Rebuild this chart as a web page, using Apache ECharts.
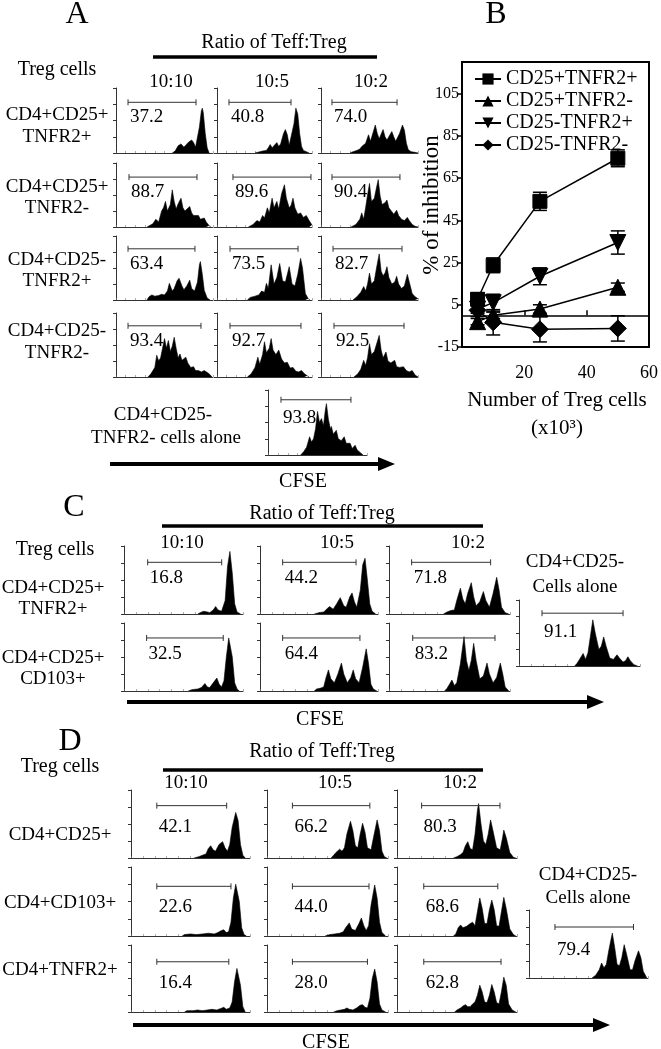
<!DOCTYPE html>
<html><head><meta charset="utf-8">
<script src="https://cdn.jsdelivr.net/npm/echarts@6/dist/echarts.min.js"></script>
<style>html,body{margin:0;padding:0;background:#fff}#c{width:661px;height:1049px}</style>
</head><body><div id="c"></div>
<script>
const FONT = "'Liberation Serif','Times New Roman',serif";

// ---------- shared labels ----------
const ratioLabels = ['10:10', '10:5', '10:2'];
const ratioTitle = 'Ratio of Teff:Treg';
const tregTitle = 'Treg cells';

// ---------- Panel A ----------
const A_rowLabels = [['CD4+CD25+', 'TNFR2+'], ['CD4+CD25+', 'TNFR2-'], ['CD4+CD25-', 'TNFR2+'], ['CD4+CD25-', 'TNFR2-']];
const A_pct_r1 = [37.2, 40.8, 74.0];
const A_pct_r2 = [88.7, 89.6, 90.4];
const A_pct_r3 = [63.4, 73.5, 82.7];
const A_pct_r4 = [93.4, 92.7, 92.5];
const A_pct_alone = 93.8;
const A_gate_r1 = [[12.4, 82.5], [12.6, 77.9], [11.3, 78.4]];
const A_gate_r2 = [[13.4, 83.5], [16.8, 98.9], [11.3, 81.4]];
const A_gate_r3 = [[12.4, 81.4], [13.7, 85.3], [12.4, 83.5]];
const A_gate_r4 = [[12.4, 87.6], [13.7, 88.4], [13.4, 85.6]];
const A_gate_alone = [13.1, 83.8];
const A_gateY = [78, 78, 80, 80];
const A_gateY_alone = 85;

const hA_r1c1 = [[58,0],[61,3],[64,11],[67,14],[70,9],[72,9],[75,17],[78,20],[80,16],[82,9],[84,12],[86,40],[88,65],[89,69],[90,62],[92,30],[94,8],[96,0]];
const hA_r1c2 = [[40,0],[42,2],[48,3],[52,4],[54,8],[56,13],[58,8],[60,10],[63,16],[65,10],[67,14],[70,30],[72,36],[74,28],[76,12],[78,15],[81,45],[83,69],[85,60],[87,30],[89,10],[91,4],[93,1],[97,0]];
const hA_r1c3 = [[30,0],[33,2],[37,4],[40,6],[42,10],[44,8],[46,15],[49,28],[51,18],[53,20],[56,43],[58,30],[60,22],[62,25],[64,36],[66,25],[68,20],[70,22],[73,33],[75,25],[77,18],[79,20],[81,30],[84,43],[86,35],[88,15],[90,5],[93,2],[97,1],[100,0]];
const hA_r2c1 = [[32,0],[38,5],[41,12],[44,8],[47,25],[49,30],[51,40],[53,25],[56,35],[58,58],[60,40],[62,28],[64,36],[67,45],[69,30],[71,25],[73,28],[76,32],[78,22],[80,18],[82,15],[85,18],[87,12],[89,10],[91,14],[93,8],[96,2],[98,0]];
const hA_r2c2 = [[33,0],[38,4],[42,10],[45,8],[48,18],[50,14],[53,30],[55,22],[58,45],[60,30],[63,40],[65,28],[68,52],[71,66],[73,45],[76,30],[78,34],[80,45],[82,30],[85,20],[88,22],[91,15],[94,18],[97,10],[100,3]];
const hA_r2c3 = [[31,0],[36,4],[40,12],[42,22],[44,12],[46,30],[48,50],[50,68],[52,40],[55,45],[57,60],[59,74],[61,48],[63,35],[66,38],[68,42],[70,30],[73,24],[75,20],[78,26],[80,18],[83,12],[86,10],[89,15],[91,10],[94,4],[97,1],[100,0]];
const hA_r3c1 = [[32,0],[34,5],[37,8],[40,6],[44,7],[47,9],[50,8],[53,14],[55,26],[58,14],[60,18],[63,30],[65,34],[68,22],[70,16],[73,22],[76,31],[78,18],[81,14],[84,28],[86,55],[87,60],[89,40],[91,15],[94,3],[97,0]];
const hA_r3c2 = [[32,0],[35,4],[40,6],[44,8],[47,14],[50,12],[52,26],[54,18],[57,55],[60,25],[63,35],[66,57],[69,30],[72,28],[76,52],[79,25],[82,22],[85,40],[88,65],[90,50],[93,10],[96,2],[98,0]];
const hA_r3c3 = [[33,0],[37,5],[41,12],[44,21],[46,14],[48,25],[50,42],[52,25],[55,30],[57,48],[60,72],[62,45],[64,38],[66,42],[68,52],[70,35],[73,25],[76,28],[78,37],[80,25],[83,18],[86,22],[89,40],[91,28],[94,10],[97,5],[100,2]];
const hA_r4c1 = [[33,0],[36,5],[40,15],[42,34],[44,25],[46,30],[48,45],[50,60],[52,45],[54,57],[56,40],[58,48],[60,62],[62,45],[64,30],[66,36],[68,26],[70,25],[72,31],[74,22],[77,15],[80,16],[82,10],[85,10],[88,8],[91,10],[93,11],[96,5],[99,0]];
const hA_r4c2 = [[32,0],[36,5],[40,15],[43,31],[45,20],[48,35],[50,55],[52,38],[55,45],[57,60],[59,42],[62,35],[65,42],[68,28],[71,22],[74,23],[77,14],[80,15],[83,9],[86,8],[89,10],[92,5],[95,2],[97,0]];
const hA_r4c3 = [[34,0],[38,5],[41,12],[44,26],[46,18],[48,30],[50,52],[52,35],[55,40],[57,50],[60,65],[62,42],[64,30],[67,39],[69,25],[72,22],[76,26],[78,16],[81,15],[85,16],[88,10],[91,8],[94,10],[97,3],[100,0]];
const hA_alone = [[33,0],[36,5],[39,12],[42,28],[44,20],[46,25],[48,40],[50,67],[52,50],[54,56],[56,45],[58,70],[59,79],[61,55],[63,40],[64,44],[66,32],[69,38],[71,25],[74,22],[77,28],[79,18],[81,15],[83,18],[85,10],[88,15],[90,8],[93,4],[96,0]];

// ---------- Panel B ----------
const tregNumber = [5, 10, 25, 50];
const B_names = ['CD25+TNFR2+', 'CD25+TNFR2-', 'CD25-TNFR2+', 'CD25-TNFR2-'];
const B_CD25pTNFR2p = [7.6, 23.7, 54.0, 74.4];
const B_CD25pTNFR2p_err = [3, 3.5, 4.3, 4];
const B_CD25pTNFR2m = [-3, 0, 3, 13.3];
const B_CD25pTNFR2m_err = [1.5, 1.5, 2, 2];
const B_CD25mTNFR2p = [3, 6, 18.5, 34.5];
const B_CD25mTNFR2p_err = [2, 4, 4, 5.5];
const B_CD25mTNFR2m = [2.4, -3.3, -6.6, -6.2];
const B_CD25mTNFR2m_err = [3, 6, 6, 6];
const B_yTitle = '% of inhibition';
const B_xTitle = 'Number of Treg cells';
const B_xUnit = '(x10\u00B3)';

// ---------- Panel C ----------
const C_rowLabels = [['CD4+CD25+', 'TNFR2+'], ['CD4+CD25+', 'CD103+']];
const C_pct_r1 = [16.8, 44.2, 71.8];
const C_pct_r2 = [32.5, 64.4, 83.2];
const C_pct_alone = 91.1;
const C_gate_r1 = [[19.9, 82.1], [19.2, 81.4], [18.7, 84.0]];
const C_gate_r2 = [[19.0, 83.4], [19.2, 84.7], [19.6, 87.6]];
const C_gate_alone = [19.0, 86.0];
const C_gateY = [76, 78];
const C_gateY_alone = 80;

const hC_r1c1 = [[62,0],[64,2],[67,4],[70,3],[72,2],[75,6],[77,11],[79,6],[82,4],[85,20],[87,70],[89,92],[91,60],[93,15],[95,3],[98,0]];
const hC_r1c2 = [[46,0],[50,2],[54,3],[57,8],[59,11],[62,7],[65,15],[68,24],[71,12],[73,10],[76,25],[78,31],[80,18],[82,10],[85,35],[87,72],[89,82],[91,50],[93,15],[95,4],[98,0]];
const hC_r1c3 = [[45,0],[48,3],[51,5],[54,6],[56,20],[59,38],[61,22],[63,15],[65,30],[68,46],[70,25],[72,12],[75,18],[78,33],[80,20],[83,10],[86,30],[89,54],[91,35],[93,10],[96,2],[99,0]];
const hC_r2c1 = [[54,0],[57,2],[62,3],[65,5],[68,11],[70,6],[72,5],[75,12],[78,19],[80,10],[82,6],[84,15],[86,50],[88,78],[89,80],[91,50],[93,12],[95,3],[97,0]];
const hC_r2c2 = [[46,0],[48,3],[51,4],[54,6],[56,20],[58,31],[60,18],[63,12],[66,25],[69,41],[71,25],[74,12],[77,20],[79,31],[81,18],[84,12],[87,35],[90,62],[92,40],[94,10],[96,3],[99,0]];
const hC_r2c3 = [[46,0],[48,4],[50,10],[52,16],[54,8],[56,12],[59,40],[62,80],[64,45],[66,30],[68,45],[70,70],[72,45],[75,18],[78,22],[81,41],[83,25],[86,12],[89,20],[92,41],[94,25],[96,6],[99,0]];
const hC_alone = [[46,0],[48,4],[50,10],[53,19],[55,10],[57,20],[59,45],[61,70],[63,50],[66,25],[68,30],[70,44],[72,30],[75,12],[78,10],[81,17],[83,12],[86,6],[88,8],[90,14],[92,8],[95,2],[98,0]];

// ---------- Panel D ----------
const D_rowLabels = ['CD4+CD25+', 'CD4+CD103+', 'CD4+TNFR2+'];
const D_pct_r1 = [42.1, 66.2, 80.3];
const D_pct_r2 = [22.6, 44.0, 68.6];
const D_pct_r3 = [16.4, 28.0, 62.8];
const D_pct_alone = 79.4;
const D_gate_r1 = [[21.7, 80.4], [21.0, 85.0], [20.5, 85.8]];
const D_gate_r2 = [[21.7, 84.0], [21.0, 84.3], [22.3, 84.0]];
const D_gate_r3 = [[21.7, 82.2], [21.0, 83.0], [22.3, 86.7]];
const D_gate_alone = [21.8, 87.8];
const D_gateY = [77, 72, 75];
const D_gateY_alone = 75;

const hD_r1c1 = [[53,0],[57,2],[60,4],[63,6],[65,14],[67,18],[69,12],[71,10],[74,20],[77,24],[79,15],[81,10],[83,20],[85,45],[88,67],[90,55],[92,20],[94,4],[96,0]];
const hD_r1c2 = [[53,0],[55,4],[57,8],[60,13],[62,10],[64,15],[66,35],[69,54],[71,40],[73,18],[75,15],[77,35],[79,51],[81,38],[83,15],[86,12],[88,30],[91,56],[93,40],[95,10],[97,2],[99,0]];
const hD_r1c3 = [[47,0],[50,2],[53,5],[55,8],[57,18],[59,24],[61,14],[63,12],[65,35],[67,70],[68,80],[70,50],[72,25],[74,20],[76,35],[78,56],[80,40],[83,15],[86,12],[88,30],[89,41],[91,30],[94,8],[97,1],[99,0]];
const hD_r2c1 = [[43,0],[45,2],[50,3],[55,2],[60,3],[65,4],[70,3],[73,5],[76,8],[78,9],[80,5],[82,6],[84,20],[86,55],[88,75],[89,77],[91,50],[93,12],[95,2],[97,0]];
const hD_r2c2 = [[48,0],[52,2],[56,3],[60,4],[63,6],[65,12],[68,19],[70,10],[73,8],[76,18],[78,26],[80,15],[82,8],[84,15],[86,45],[89,74],[91,55],[93,20],[95,5],[98,0]];
const hD_r2c3 = [[47,0],[49,3],[51,12],[53,16],[55,12],[58,14],[61,18],[63,20],[65,15],[67,35],[69,55],[71,40],[73,18],[75,18],[77,38],[79,52],[81,38],[83,15],[85,14],[87,35],[89,56],[91,40],[94,10],[97,2],[99,0]];
const hD_r3c1 = [[45,0],[47,2],[52,2],[56,3],[60,2],[64,3],[68,4],[72,3],[75,5],[78,7],[80,4],[83,6],[85,15],[87,45],[89,65],[90,67],[92,40],[94,8],[96,0]];
const hD_r3c2 = [[55,0],[58,2],[61,3],[64,4],[66,6],[68,4],[71,3],[74,6],[77,10],[79,11],[81,7],[83,6],[85,20],[87,50],[89,64],[91,45],[93,12],[95,3],[98,0]];
const hD_r3c3 = [[48,0],[50,3],[53,6],[55,9],[57,11],[59,8],[61,8],[63,12],[65,15],[67,25],[69,40],[71,30],[73,15],[75,14],[77,25],[79,41],[81,30],[83,14],[85,12],[87,30],[89,52],[91,40],[93,12],[96,3],[99,0]];
const hD_alone = [[53,0],[56,4],[59,12],[61,22],[63,15],[65,20],[67,40],[70,66],[72,45],[74,20],[76,18],[78,30],[80,49],[82,35],[85,12],[87,12],[89,25],[92,40],[94,30],[96,10],[99,0]];

// ---------- layout (pixel boxes, not data) ----------
const A_colLeft = [116, 217, 321], A_colW = [97, 95, 97];
const A_rowTop = [88, 163, 236, 313], A_rowH = [65, 64, 64, 64];
const A_aloneBox = [268, 390, 99, 65];
const C_colLeft = [124, 260, 389], C_colW = [119, 118, 121];
const C_rowTop = [546, 623], C_rowH = [68, 68];
const C_aloneBox = [519, 600, 121, 66];
const D_colLeft = [131, 267, 397], D_colW = [119, 121, 120];
const D_rowTop = [790, 867, 945], D_rowH = [68, 69, 67];
const D_aloneBox = [529, 910, 119, 68];

const grids = [], xAxes = [], yAxes = [], series = [], graphics = [];

function addHist(box, hist, gate, gateY, pct, drop) {
  const i = grids.length;
  grids.push({ left: box[0], top: box[1], width: box[2], height: box[3] });
  xAxes.push({ gridIndex: i, type: 'value', min: 0, max: 100, interval: 10,
    axisLine: { show: true, onZero: false, lineStyle: { color: '#333', width: 1 } },
    axisTick: { show: true, inside: true, length: 2, lineStyle: { color: '#777', width: 0.6 } },
    axisLabel: { show: false }, splitLine: { show: false } });
  yAxes.push({ gridIndex: i, type: 'value', min: 0, max: 100, interval: 25,
    axisLine: { show: true, onZero: false, lineStyle: { color: '#333', width: 1 } },
    axisTick: { show: true, inside: false, length: 3, lineStyle: { color: '#333', width: 1 } },
    axisLabel: { show: false }, splitLine: { show: false } });
  series.push({ type: 'line', xAxisIndex: i, yAxisIndex: i, data: hist, symbol: 'none', silent: true,
    lineStyle: { color: '#000', width: 0.6 }, areaStyle: { color: '#000', opacity: 1 }, z: 2 });
  series.push({ type: 'custom', xAxisIndex: i, yAxisIndex: i, silent: true, z: 3,
    data: [[gate[0], gate[1], gateY, pct]], encode: { x: [0, 1], y: 2 },
    renderItem: (params, api) => {
      const a = api.coord([api.value(0), api.value(2)]);
      const b = api.coord([api.value(1), api.value(2)]);
      const st = { stroke: '#333', lineWidth: 1 };
      return { type: 'group', children: [
        { type: 'line', shape: { x1: a[0], y1: a[1], x2: b[0], y2: b[1] }, style: st },
        { type: 'line', shape: { x1: a[0], y1: a[1] - 3, x2: a[0], y2: a[1] + 3 }, style: st },
        { type: 'line', shape: { x1: b[0], y1: b[1] - 3, x2: b[0], y2: b[1] + 3 }, style: st },
        { type: 'text', x: a[0] + 2, y: a[1] + drop,
          style: { text: api.value(3).toFixed(1), font: '19px ' + FONT, fill: '#000', align: 'left', verticalAlign: 'middle' } }
      ] };
    } });
}

function T(text, x, y, size, align, rot) {
  graphics.push({ type: 'text', x: x, y: y, rotation: rot || 0, silent: true,
    style: { text: text, font: size + 'px ' + FONT, fill: '#000', align: align || 'center', verticalAlign: 'middle' } });
}
function L(x1, y1, x2, y2, w) {
  graphics.push({ type: 'line', silent: true, shape: { x1, y1, x2, y2 }, style: { stroke: '#000', lineWidth: w } });
}
function arrow(x1, x2, y) {
  L(x1, y, x2 - 14, y, 4);
  graphics.push({ type: 'polygon', silent: true, shape: { points: [[x2 - 17, y - 7], [x2, y], [x2 - 17, y + 7]] }, style: { fill: '#000' } });
}

// ---- Panel A histograms
const A_hist = [[hA_r1c1, hA_r1c2, hA_r1c3], [hA_r2c1, hA_r2c2, hA_r2c3], [hA_r3c1, hA_r3c2, hA_r3c3], [hA_r4c1, hA_r4c2, hA_r4c3]];
const A_pct = [A_pct_r1, A_pct_r2, A_pct_r3, A_pct_r4];
const A_gate = [A_gate_r1, A_gate_r2, A_gate_r3, A_gate_r4];
for (let r = 0; r < 4; r++) for (let c = 0; c < 3; c++)
  addHist([A_colLeft[c], A_rowTop[r], A_colW[c], A_rowH[r]], A_hist[r][c], A_gate[r][c], A_gateY[r], A_pct[r][c], 15);
addHist(A_aloneBox, hA_alone, A_gate_alone, A_gateY_alone, A_pct_alone, 18);

// ---- Panel C histograms
const C_hist = [[hC_r1c1, hC_r1c2, hC_r1c3], [hC_r2c1, hC_r2c2, hC_r2c3]];
const C_pct = [C_pct_r1, C_pct_r2];
const C_gate = [C_gate_r1, C_gate_r2];
for (let r = 0; r < 2; r++) for (let c = 0; c < 3; c++)
  addHist([C_colLeft[c], C_rowTop[r], C_colW[c], C_rowH[r]], C_hist[r][c], C_gate[r][c], C_gateY[r], C_pct[r][c], 16);
addHist(C_aloneBox, hC_alone, C_gate_alone, C_gateY_alone, C_pct_alone, 19);

// ---- Panel D histograms
const D_hist = [[hD_r1c1, hD_r1c2, hD_r1c3], [hD_r2c1, hD_r2c2, hD_r2c3], [hD_r3c1, hD_r3c2, hD_r3c3]];
const D_pct = [D_pct_r1, D_pct_r2, D_pct_r3];
const D_gate = [D_gate_r1, D_gate_r2, D_gate_r3];
for (let r = 0; r < 3; r++) for (let c = 0; c < 3; c++)
  addHist([D_colLeft[c], D_rowTop[r], D_colW[c], D_rowH[r]], D_hist[r][c], D_gate[r][c], D_gateY[r], D_pct[r][c], 21);
addHist(D_aloneBox, hD_alone, D_gate_alone, D_gateY_alone, D_pct_alone, 23);

// ---- Panel B line chart
const bi = grids.length;
grids.push({ left: 462, top: 62, width: 190, height: 285, show: true, borderColor: '#000', borderWidth: 2, backgroundColor: 'transparent' });
const bx0 = xAxes.length;
xAxes.push({ gridIndex: bi, type: 'value', min: 0, max: 60, interval: 20, position: 'bottom',
  axisLine: { show: true, onZero: true, lineStyle: { color: '#000', width: 1.5 } },
  axisTick: { show: true, inside: true, length: 5, lineStyle: { color: '#000', width: 1.5 } },
  axisLabel: { show: false }, splitLine: { show: false } });
xAxes.push({ gridIndex: bi, type: 'value', min: 0, max: 60, interval: 20, position: 'bottom',
  axisLine: { show: false, onZero: false }, axisTick: { show: false },
  axisLabel: { show: true, showMinLabel: false, margin: 17, fontFamily: FONT, fontSize: 18, color: '#000' },
  splitLine: { show: false } });
const by0 = yAxes.length;
yAxes.push({ gridIndex: bi, type: 'value', min: -15, max: 120, interval: 20,
  axisLine: { show: true, onZero: false, lineStyle: { color: '#000', width: 2 } },
  axisTick: { show: true, length: 4, lineStyle: { color: '#000', width: 1.5 } },
  axisLabel: { showMaxLabel: false, margin: 3, fontFamily: FONT, fontSize: 16, color: '#000' },
  splitLine: { show: false } });

const B_vals = [B_CD25pTNFR2p, B_CD25pTNFR2m, B_CD25mTNFR2p, B_CD25mTNFR2m];
const B_errs = [B_CD25pTNFR2p_err, B_CD25pTNFR2m_err, B_CD25mTNFR2p_err, B_CD25mTNFR2m_err];
const B_sym = [['rect', 14, 0], ['triangle', 16, 0], ['triangle', 16, 180], ['diamond', 17, 0]];
B_vals.forEach((vals, k) => {
  series.push({ type: 'custom', xAxisIndex: bx0, yAxisIndex: by0, silent: true, z: 4,
    data: tregNumber.map((x, j) => [x, vals[j] - B_errs[k][j], vals[j] + B_errs[k][j]]),
    encode: { x: 0, y: [1, 2] },
    renderItem: (params, api) => {
      const lo = api.coord([api.value(0), api.value(1)]);
      const hi = api.coord([api.value(0), api.value(2)]);
      const st = { stroke: '#000', lineWidth: 1.5 };
      return { type: 'group', children: [
        { type: 'line', shape: { x1: lo[0], y1: lo[1], x2: hi[0], y2: hi[1] }, style: st },
        { type: 'line', shape: { x1: lo[0] - 7, y1: lo[1], x2: lo[0] + 7, y2: lo[1] }, style: st },
        { type: 'line', shape: { x1: hi[0] - 7, y1: hi[1], x2: hi[0] + 7, y2: hi[1] }, style: st }
      ] };
    } });
  series.push({ type: 'line', name: B_names[k], xAxisIndex: bx0, yAxisIndex: by0, z: 5,
    data: tregNumber.map((x, j) => [x, vals[j]]),
    symbol: B_sym[k][0], symbolSize: B_sym[k][1], symbolRotate: B_sym[k][2], showAllSymbol: true,
    lineStyle: { color: '#000', width: 1.5 }, itemStyle: { color: '#000', borderColor: '#000' } });
});

// ---- Annotations (text, header lines, arrows)
// Panel A
T('A', 77, 15, 32);
T(ratioTitle, 274, 43, 20);
L(153, 57, 377, 57, 3.5);
T(tregTitle, 57, 70, 20);
[171, 272, 371].forEach((x, c) => T(ratioLabels[c], x, 82, 19));
[[115, 137], [187, 208], [260, 281], [331, 353]].forEach((ys, r) => {
  T(A_rowLabels[r][0], 57, ys[0], 19); T(A_rowLabels[r][1], 57, ys[1], 19);
});
T('CD4+CD25-', 163, 415, 19);
T('TNFR2- cells alone', 166, 438, 19);
arrow(110, 395, 464);
T('CFSE', 303, 482, 20);

// Panel B
T('B', 496, 15, 32);
T(B_yTitle, 432, 205, 23, 'center', Math.PI / 2);
T(B_xTitle, 557, 400, 21);
T(B_xUnit, 557, 428, 21);

// Panel C
T('C', 74, 508, 32);
T(ratioTitle, 322, 514, 20);
L(162, 526, 483, 526, 3.5);
T(tregTitle, 55, 550, 20);
[182, 337, 468].forEach((x, c) => T(ratioLabels[c], x, 543, 19));
[[588, 609], [658, 679]].forEach((ys, r) => {
  T(C_rowLabels[r][0], 53, ys[0], 19); T(C_rowLabels[r][1], 53, ys[1], 19);
});
T('CD4+CD25-', 575, 562, 19);
T('Cells alone', 575, 587, 19);
arrow(127, 604, 702);
T('CFSE', 320, 720, 20);

// Panel D
T('D', 70, 742, 32);
T(ratioTitle, 322, 752, 20);
L(163, 770, 483, 770, 3.5);
T(tregTitle, 60, 767, 20);
[186, 335, 460].forEach((x, c) => T(ratioLabels[c], x, 783, 19));
[835, 903, 970].forEach((y, r) => T(D_rowLabels[r], 60, y, 19));
T('CD4+CD25-', 588, 875, 19);
T('Cells alone', 588, 898, 19);
arrow(133, 610, 1025);
T('CFSE', 326, 1043, 20);

const chart = echarts.init(document.getElementById('c'));
chart.setOption({
  animation: false,
  backgroundColor: '#fff',
  textStyle: { fontFamily: FONT },
  grid: grids, xAxis: xAxes, yAxis: yAxes, series: series,
  legend: { data: B_names, orient: 'vertical', left: 469, top: 64, itemWidth: 26, itemHeight: 14, itemGap: 2,
    selectedMode: false, textStyle: { fontFamily: FONT, fontSize: 20, color: '#000', lineHeight: 20 } },
  graphic: graphics
});
</script></body></html>
